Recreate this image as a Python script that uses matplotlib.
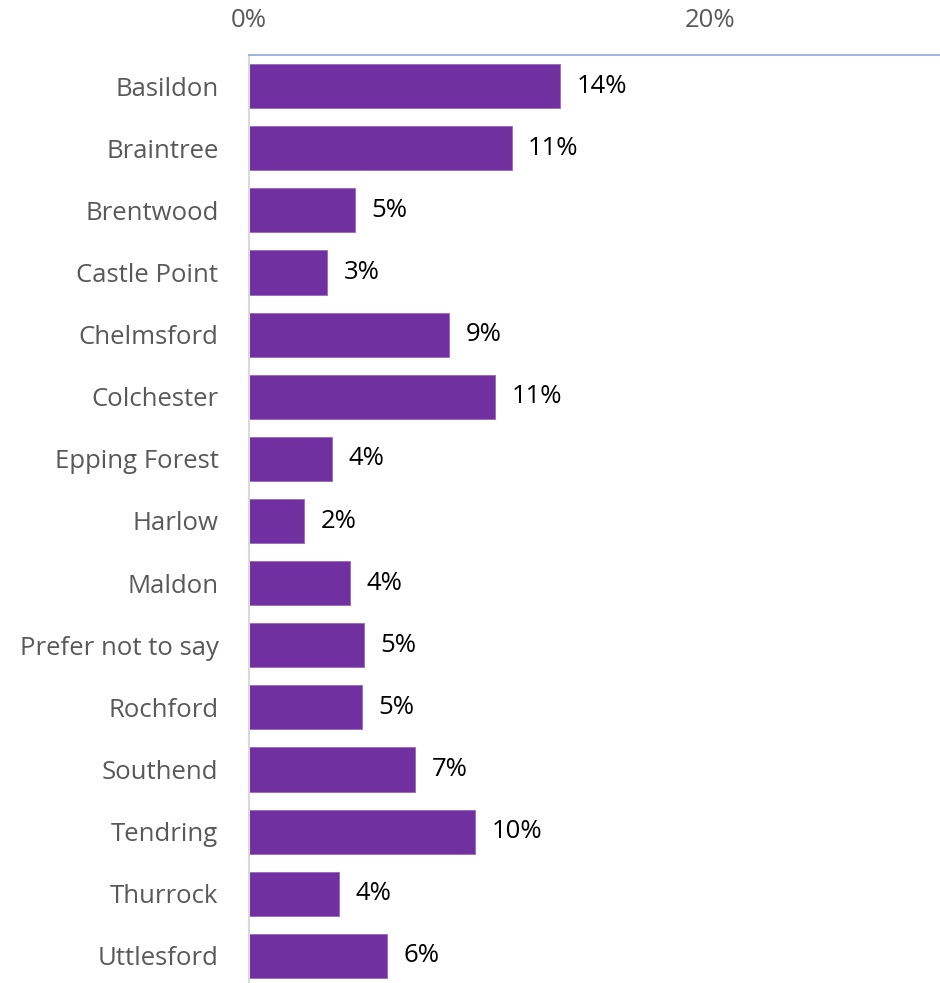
import matplotlib.pyplot as plt
from matplotlib.ticker import PercentFormatter

# Share of respondents by district
districts = ['Basildon', 'Braintree', 'Brentwood', 'Castle Point', 'Chelmsford',
             'Colchester', 'Epping Forest', 'Harlow', 'Maldon', 'Prefer not to say',
             'Rochford', 'Southend', 'Tendring', 'Thurrock', 'Uttlesford']
shares = [13.5, 11.4, 4.6, 3.4, 8.7, 10.7, 3.6, 2.4, 4.4, 5.0, 4.9, 7.2, 9.8, 3.9, 6.0]
xticks = [0, 20]

plt.rcParams['font.family'] = ['Open Sans', 'DejaVu Sans']
FS = 18.5

fig = plt.figure(figsize=(9.4, 9.83), dpi=100)
ax = fig.add_axes((249 / 940, -4 / 983, 691 / 940, 932 / 983))  # (left, bottom, width, height)

pos = range(len(districts))
ax.barh(pos, shares, height=0.71, color='#7030A0', edgecolor='#9966C0', linewidth=0.6)
for y, v in zip(pos, shares):
    ax.text(v + 0.72, y, f"{v:.0f}%", fontsize=FS, color='black', va='center', ha='left')

ax.set_xlim(0, 30)
ax.set_ylim(len(districts) - 0.5, -0.5)
ax.set_yticks(list(pos), labels=districts, fontsize=FS, color='#595959')
ax.set_xticks(xticks)
ax.xaxis.set_major_formatter(PercentFormatter(decimals=0))
ax.xaxis.tick_top()
ax.tick_params(axis='x', length=0, pad=16, labelsize=FS, labelcolor='#595959')
ax.tick_params(axis='y', length=0, pad=22)

for side in ('right', 'bottom'):
    ax.spines[side].set_visible(False)
ax.spines['top'].set_color('#8EA9DB')
ax.spines['top'].set_linewidth(1.2)
ax.spines['left'].set_color('#D9D9D9')
ax.spines['left'].set_linewidth(1.5)

fig.savefig('out.png', dpi=100)
